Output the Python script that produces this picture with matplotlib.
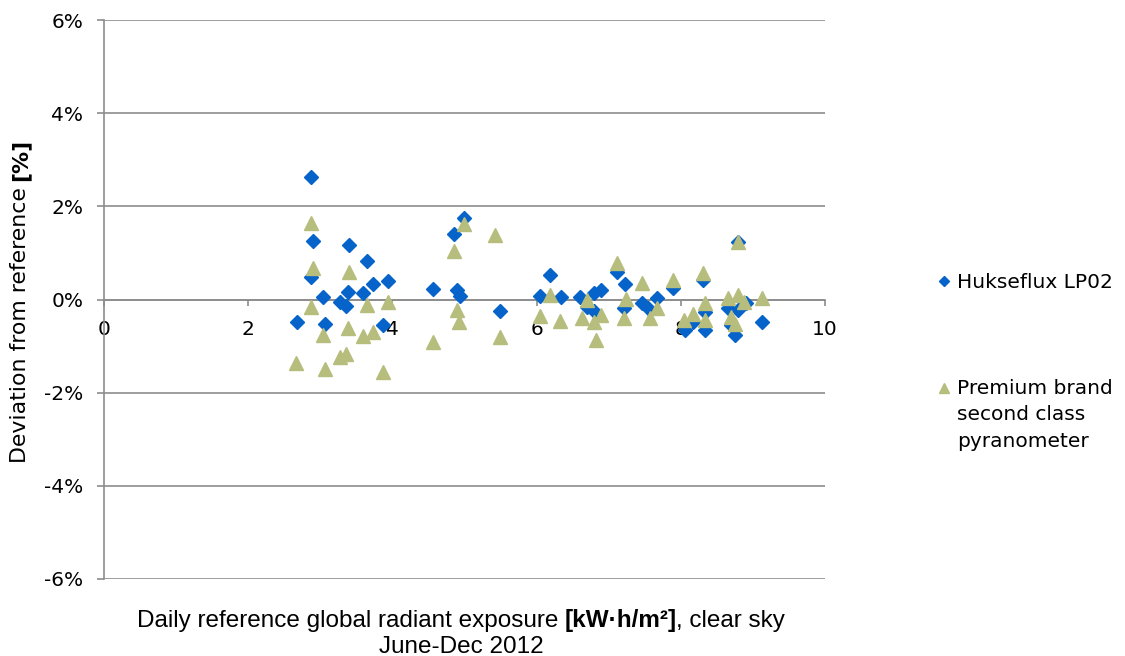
import matplotlib
matplotlib.use("Agg")
import numpy as np
import matplotlib.pyplot as plt
from matplotlib import font_manager

# Daily radiant exposure (kWh/m2) and deviation from reference (%)
lp02_x = [2.67, 2.87, 2.90, 2.87, 3.04, 3.07, 3.27, 3.36, 3.40, 3.39, 3.59, 3.65,
          3.73, 3.87, 3.94, 4.56, 4.86, 4.89, 4.94, 4.99, 5.49, 6.05, 6.18, 6.34,
          6.60, 6.70, 6.80, 6.80, 6.89, 7.11, 7.23, 7.21, 7.46, 7.54, 7.67, 7.89,
          8.06, 8.17, 8.31, 8.34, 8.34, 8.65, 8.69, 8.75, 8.79, 8.80, 8.91, 9.13]
lp02_y = [-0.48, 2.63, 1.25, 0.48, 0.05, -0.53, -0.06, -0.14, 1.17, 0.16, 0.14, 0.82,
          0.33, -0.55, 0.40, 0.22, 1.41, 0.20, 0.08, 1.74, -0.25, 0.08, 0.53, 0.05,
          0.05, -0.16, -0.25, 0.14, 0.20, 0.59, 0.33, -0.18, -0.08, -0.18, 0.03, 0.25,
          -0.65, -0.48, 0.42, -0.27, -0.65, -0.18, -0.55, -0.76, 1.23, -0.22, -0.08, -0.48]

prem_x = [2.66, 2.87, 2.90, 2.87, 3.04, 3.07, 3.27, 3.36, 3.40, 3.39, 3.59, 3.65,
          3.73, 3.87, 3.94, 4.56, 4.86, 4.89, 4.92, 4.99, 5.42, 5.49, 6.05, 6.18,
          6.32, 6.63, 6.70, 6.80, 6.82, 6.89, 7.11, 7.24, 7.21, 7.46, 7.57, 7.67,
          7.89, 8.04, 8.17, 8.31, 8.34, 8.34, 8.65, 8.69, 8.75, 8.79, 8.80, 8.87, 9.13]
prem_y = [-1.36, 1.64, 0.68, -0.16, -0.76, -1.49, -1.23, -1.17, 0.59, -0.61, -0.78, -0.12,
          -0.70, -1.55, -0.05, -0.91, 1.04, -0.23, -0.48, 1.62, 1.38, -0.80, -0.35, 0.10,
          -0.46, -0.40, -0.01, -0.48, -0.87, -0.33, 0.78, 0.01, -0.40, 0.35, -0.40, -0.18,
          0.42, -0.44, -0.31, 0.57, -0.08, -0.44, 0.03, -0.38, -0.52, 1.23, 0.10, -0.05, 0.03]

labels = ["Hukseflux LP02", "Premium brand\nsecond class\npyranometer"]
x_ticks = [0, 2, 4, 6, 8, 10]
y_ticks = [-6, -4, -2, 0, 2, 4, 6]

BLUE = "#0563C9"
OLIVE = "#B7BD7C"
GRID = "#8C8C8C"


def has_font(name):
    try:
        font_manager.findfont(name, fallback_to_default=False)
        return True
    except ValueError:
        return False


narrow = "Liberation Sans Narrow" if has_font("Liberation Sans Narrow") else "Liberation Sans"
plt.rcParams["font.family"] = "DejaVu Sans"

fig = plt.figure(figsize=(11.25, 6.56), dpi=100)
W, H = 1125, 656
ax = fig.add_axes([104 / W, 77 / H, 721 / W, 559 / H])

ax.plot(lp02_x, lp02_y, ls="none", marker="D", ms=7.6, color=BLUE, mec=BLUE,
        label=labels[0], zorder=3)
ax.plot(prem_x, prem_y, ls="none", marker="^", ms=10.5, color=OLIVE, mec=OLIVE,
        label=labels[1], zorder=4)

ax.set_xlim(0, 10)
ax.set_ylim(-6, 6)
ax.set_xticks(x_ticks)
ax.set_yticks(y_ticks)
ax.set_yticklabels([f"{v}%" for v in y_ticks])

ax.yaxis.grid(True, color=GRID, lw=1.2)
ax.set_axisbelow(True)
for s in ("top", "right"):
    ax.spines[s].set_visible(False)
ax.spines["bottom"].set_position(("data", 0))
for s in ("left", "bottom"):
    ax.spines[s].set_color(GRID)
    ax.spines[s].set_linewidth(1.2)
ax.tick_params(axis="y", direction="out", length=5, width=1.2, color=GRID,
               pad=10, labelsize=14.5)
ax.tick_params(axis="x", direction="out", length=4, width=1.2, color=GRID,
               pad=11, labelsize=14.5)

fs_leg = 14.5
leg = fig.legend(loc="upper left", bbox_to_anchor=(938 / W, 1 - 273 / H),
                 frameon=False, fontsize=fs_leg, markerscale=0.65,
                 borderpad=0, borderaxespad=0,
                 handlelength=0.6, handletextpad=0.35, labelspacing=4.3)
for t in leg.get_texts():
    t.set_linespacing(1.5)

# legend centres the marker on a multi-line label; lift it to the first line
pitch = 19.7
tri = leg.legend_handles[1]
tri.set_ydata(np.asarray(tri.get_ydata()) + pitch)

renderer = fig.canvas.get_renderer()

# x-axis title: regular / bold / regular pieces, centred under the plot
fs_x = 17.5
parts = [("Daily reference global radiant exposure", "normal"),
         ("[kW·h/m²]", "bold"),
         (", clear sky", "normal")]
gaps = [0.25 * fs_x * 100 / 72, 0.0, 0.0]
texts = [fig.text(0, 1 - 621 / H, s, fontsize=fs_x, family=narrow, weight=w,
                  va="center", ha="left") for s, w in parts]
widths = [t.get_window_extent(renderer).width for t in texts]
total = sum(widths) + sum(gaps)
x0 = 461 - total / 2
for t, w, g in zip(texts, widths, gaps):
    t.set_x(x0 / W)
    x0 += w + g
fig.text(461 / W, 1 - 647 / H, "June-Dec 2012", fontsize=fs_x, family=narrow,
         ha="center", va="center")

# y-axis title with the bold unit in brackets
fs_y = 15.8
ya = fig.text(20 / W, 0, "Deviation from reference", fontsize=fs_y,
              rotation=90, ha="center", va="bottom")
yb = fig.text(20 / W, 0, "[%]", fontsize=fs_y, weight="bold",
              rotation=90, ha="center", va="bottom")
ha_ = ya.get_window_extent(renderer).height
hb_ = yb.get_window_extent(renderer).height
gap_y = 0.3 * fs_y * 100 / 72
y0 = (H - 301) - (ha_ + hb_ + gap_y) / 2
ya.set_y(y0 / H)
yb.set_y((y0 + ha_ + gap_y) / H)

fig.savefig("out.png", dpi=100)
